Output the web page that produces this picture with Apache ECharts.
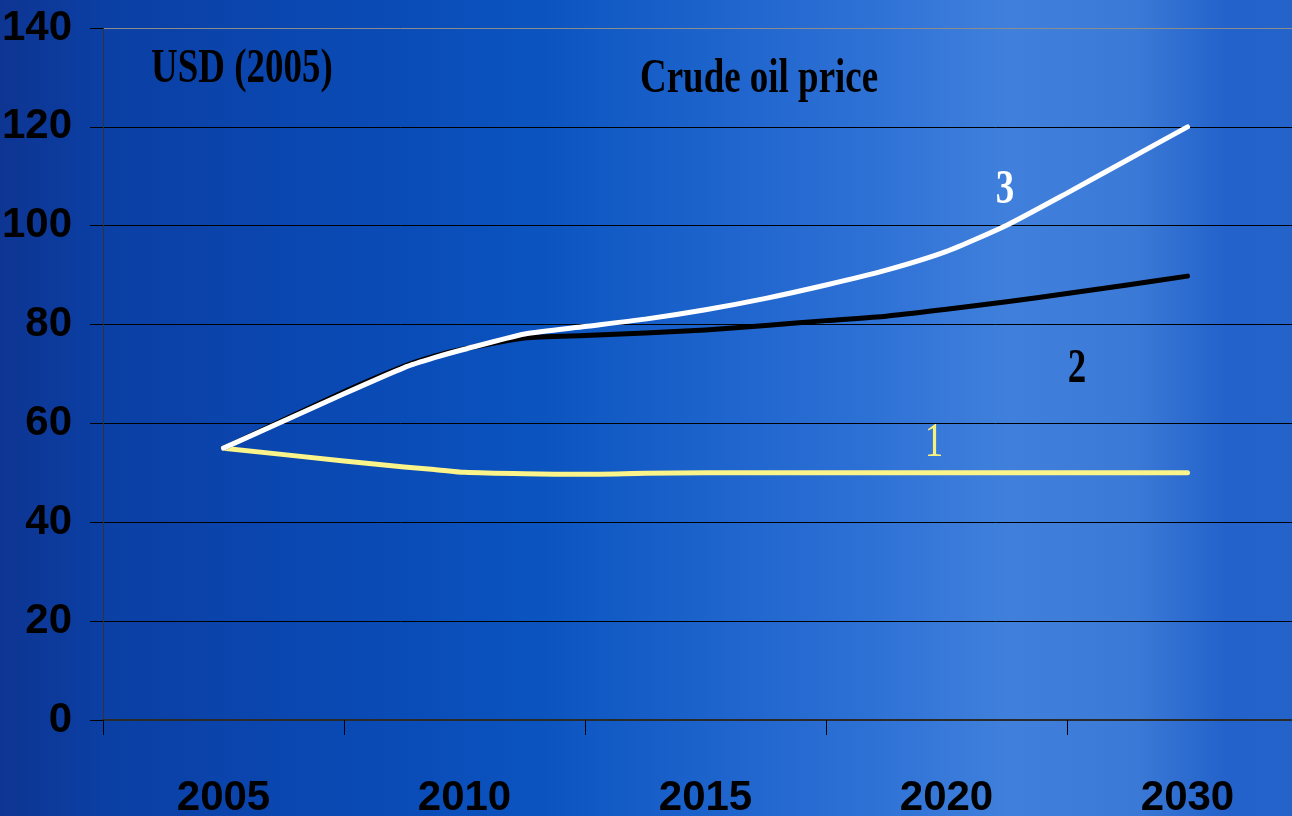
<!DOCTYPE html>
<html>
<head>
<meta charset="utf-8">
<script src="https://cdn.jsdelivr.net/npm/echarts@6/dist/echarts.min.js"></script>
<style>
html,body{margin:0;padding:0;background:#0b44aa;}
#chart{width:1292px;height:816px;}
</style>
</head>
<body>
<div id="chart"></div>
<script>
// ---- data ----
const categories = ['2005', '2010', '2015', '2020', '2030'];
// positions along the category axis (0 = 2005 centre, 4 = 2030 centre)
const steps = [0, 0.5, 0.75, 0.875, 1, 1.25, 1.5, 1.75, 2, 2.25, 2.5, 2.75, 3, 3.25, 3.5, 3.75, 4];
const scenario1 = [55, 52.4, 51.2, 50.7, 50.1, 49.8, 49.7, 49.9, 50, 50, 50, 50, 50, 50, 50, 50, 50];
const scenario2 = [55, 66.4, 71.6, 73.6, 75.1, 77.3, 77.8, 78.3, 78.9, 79.8, 80.8, 81.7, 83.1, 84.6, 86.3, 88.0, 89.8];
const scenario3 = [55, 66.0, 71.3, 73.3, 75.0, 78.1, 79.6, 81.1, 83.0, 85.3, 88.0, 91.0, 94.8, 100.1, 106.6, 113.3, 120];
const seriesNames = ['1', '2', '3'];
const chartTitle = 'Crude oil price';
const unitLabel = 'USD (2005)';

const pairs = vals => steps.map((s, i) => [s, vals[i]]);
const axisFont = '"Liberation Sans", Arial, sans-serif';
const serifFont = '"Liberation Serif", "Times New Roman", serif';

const chart = echarts.init(document.getElementById('chart'));
const option = {
  animation: false,
  backgroundColor: {
    type: 'linear', x: 0, y: 0, x2: 1, y2: 0,
    colorStops: [
      { offset: 0.0, color: '#0e3592' },
      { offset: 0.08, color: '#0b3fa4' },
      { offset: 0.3, color: '#0a4bb6' },
      { offset: 0.42, color: '#0b54c0' },
      { offset: 0.55, color: '#1d63cc' },
      { offset: 0.68, color: '#2f72d6' },
      { offset: 0.78, color: '#4080dc' },
      { offset: 0.88, color: '#3b79d6' },
      { offset: 0.95, color: '#2262ca' },
      { offset: 1.0, color: '#2463ca' }
    ]
  },
  grid: { left: 103, top: 28, right: -16, bottom: 96, outerBoundsMode: 'none', containLabel: false },
  xAxis: [
    {
      type: 'category',
      data: categories,
      boundaryGap: true,
      axisLine: { show: true, onZero: false, lineStyle: { color: '#2a2a2a', width: 2 } },
      axisTick: { show: true, length: 15, lineStyle: { color: '#000', width: 1 } },
      axisLabel: { margin: 57, fontSize: 42, fontWeight: 'bold', fontFamily: axisFont, color: '#000' },
      splitLine: { show: false }
    },
    { type: 'value', min: -0.5, max: 4.5, show: false }
  ],
  yAxis: {
    type: 'value',
    min: 0, max: 140, interval: 20,
    axisLine: { show: true, onZero: false, lineStyle: { color: '#333', width: 1 } },
    axisTick: { show: true, length: 13, lineStyle: { color: '#000', width: 1 } },
    axisLabel: { margin: 31, fontSize: 42, fontWeight: 'bold', fontFamily: axisFont, color: '#000' },
    splitLine: { show: true, lineStyle: { color: ['#000', '#000', '#000', '#000', '#000', '#000', '#000', '#8c8c8c'], width: 1 } }
  },
  series: [
    { name: seriesNames[0], type: 'line', xAxisIndex: 1, data: pairs(scenario1), symbol: 'none', smooth: 0.2,
      lineStyle: { color: '#fbf48a', width: 5, cap: 'round', join: 'round' }, z: 3 },
    { name: seriesNames[1], type: 'line', xAxisIndex: 1, data: pairs(scenario2), symbol: 'none', smooth: 0.2,
      lineStyle: { color: '#000', width: 5, cap: 'round', join: 'round' }, z: 4 },
    { name: seriesNames[2], type: 'line', xAxisIndex: 1, data: pairs(scenario3), symbol: 'none', smooth: 0.2,
      lineStyle: { color: '#fff', width: 5, cap: 'round', join: 'round' }, z: 5 }
  ],
  graphic: [
    { type: 'text', x: 640, y: 80, scaleX: 0.77, z: 10,
      style: { text: chartTitle, fontSize: 48, fontWeight: 'bold', fontFamily: serifFont, fill: '#000', align: 'left', verticalAlign: 'middle' } },
    { type: 'text', x: 151, y: 70, scaleX: 0.77, z: 10,
      style: { text: unitLabel, fontSize: 48, fontWeight: 'bold', fontFamily: serifFont, fill: '#000', align: 'left', verticalAlign: 'middle' } },
    { type: 'text', x: 934, y: 443, scaleX: 0.77, z: 10,
      style: { text: seriesNames[0], fontSize: 48, fontWeight: 'normal', fontFamily: serifFont, fill: '#f8f07e', align: 'center', verticalAlign: 'middle' } },
    { type: 'text', x: 1077, y: 370, scaleX: 0.77, z: 10,
      style: { text: seriesNames[1], fontSize: 48, fontWeight: 'bold', fontFamily: serifFont, fill: '#000', align: 'center', verticalAlign: 'middle' } },
    { type: 'text', x: 1005, y: 191, scaleX: 0.77, z: 10,
      style: { text: seriesNames[2], fontSize: 48, fontWeight: 'bold', fontFamily: serifFont, fill: '#fff', align: 'center', verticalAlign: 'middle' } }
  ]
};
chart.setOption(option);
</script>
</body>
</html>
